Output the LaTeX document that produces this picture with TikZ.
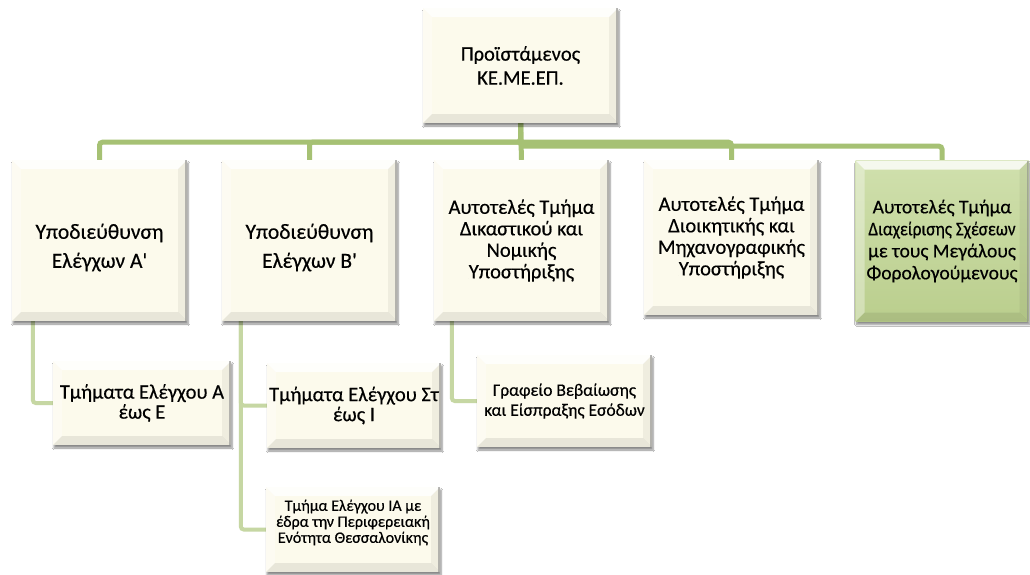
\documentclass[tikz,border=0pt]{standalone}
\usepackage{fontspec}
\setmainfont{Carlito}[Ligatures=TeXOff, FakeBold=0.4]
\usetikzlibrary{shadows.blur,backgrounds}
\definecolor{cream}{RGB}{252,250,236}
\definecolor{busgreen}{RGB}{166,193,116}
\definecolor{subgreen}{RGB}{198,215,163}
\definecolor{gtop}{RGB}{208,224,173}
\definecolor{gbot}{RGB}{186,206,141}
\newcommand\mybevel{%
  \fill[white,opacity=0.8] (path picture bounding box.north west) -- (path picture bounding box.north east)
    -- ([xshift=-9pt,yshift=-9pt]path picture bounding box.north east) -- ([xshift=9pt,yshift=-9pt]path picture bounding box.north west) -- cycle;
  \fill[white,opacity=0.35] (path picture bounding box.north west) -- (path picture bounding box.south west)
    -- ([xshift=9pt,yshift=9pt]path picture bounding box.south west) -- ([xshift=9pt,yshift=-9pt]path picture bounding box.north west) -- cycle;
  \fill[black,opacity=0.08] (path picture bounding box.south west) -- (path picture bounding box.south east)
    -- ([xshift=-9pt,yshift=9pt]path picture bounding box.south east) -- ([xshift=9pt,yshift=9pt]path picture bounding box.south west) -- cycle;
  \fill[black,opacity=0.05] (path picture bounding box.north east) -- (path picture bounding box.south east)
    -- ([xshift=-9pt,yshift=9pt]path picture bounding box.south east) -- ([xshift=-9pt,yshift=-9pt]path picture bounding box.north east) -- cycle;
  \fill[black!45,opacity=0.6] ([xshift=-2pt]path picture bounding box.north east) rectangle (path picture bounding box.south east);
}
\tikzset{
  orgbox/.style={fill=cream, draw=none, align=center, inner sep=1pt,
    blur shadow={shadow xshift=1pt, shadow yshift=-3pt, shadow blur steps=6, shadow opacity=45},
    path picture={\mybevel}},
  lvtwo/.style={orgbox, minimum width=175pt, minimum height=161pt,
    font=\fontsize{20.5}{21.5}\selectfont},
  lvthree/.style={orgbox, minimum width=175pt, minimum height=85pt,
    font=\fontsize{20.5}{20}\selectfont},
  plaintext/.style={align=center, inner sep=0pt},
  bus/.style={draw=busgreen, line width=5pt, rounded corners=3pt},
  sub/.style={draw=subgreen, line width=4pt, rounded corners=3pt},
}
\begin{document}
\begin{tikzpicture}[x=1pt,y=-1pt]
\useasboundingbox (0,0) rectangle (1030,574);
\node[orgbox, minimum width=195pt, minimum height=115pt,
  font=\fontsize{20.5}{24}\selectfont] (top) at (520.5,65.5) {Προϊστάμενος\\ΚΕ.ΜΕ.ΕΠ.};
\node[lvtwo] (b1) at (99.5,240.5) {};
\node[plaintext, font=\fontsize{21.5}{29}\selectfont] (b1text) at ([yshift=-7pt]b1.center) {Υποδιεύθυνση\\Ελέγχων Α'};
\node[lvtwo] (b2) at (309.5,240.5) {};
\node[plaintext, font=\fontsize{21.5}{29}\selectfont] (b2text) at ([yshift=-7pt]b2.center) {Υποδιεύθυνση\\Ελέγχων Β'};
\node[lvtwo] (b3) at (521.5,240.5) {Αυτοτελές Τμήμα\\Δικαστικού και\\Νομικής\\Υποστήριξης};
\node[lvtwo, minimum height=155pt] (b4) at (731.5,237.5) {Αυτοτελές Τμήμα\\Διοικητικής και\\Μηχανογραφικής\\Υποστήριξης};
\node[lvtwo, minimum width=173pt, top color=gtop, bottom color=gbot,
  font=\fontsize{19.5}{22}\selectfont] (b5) at (942,241) {Αυτοτελές Τμήμα\\\scalebox{0.89}[1]{Διαχείρισης Σχέσεων}\\με τους Μεγάλους\\Φορολογούμενους};
\node[lvthree, minimum width=178pt, minimum height=84pt] (l3a) at (142,403) {Τμήματα Ελέγχου Α\\έως Ε};
\node[lvthree, minimum width=174pt] (l3b) at (354,405.5) {Τμήματα Ελέγχου Στ\\έως Ι};
\node[lvthree, minimum width=174pt] (l3c) at (353,529.5) {};
\node[plaintext, font=\fontsize{16}{16}\selectfont] (l3ctext) at ([yshift=7pt]l3c.center) {Τμήμα Ελέγχου ΙΑ με\\έδρα την Περιφερειακή\\Ενότητα Θεσσαλονίκης};
\node[lvthree, minimum height=92pt, font=\fontsize{17.5}{20}\selectfont] (l3d) at (564.5,401) {Γραφείο Βεβαίωσης\\και Είσπραξης Εσόδων};
\begin{scope}[on background layer]
\fill[white] (0,0) rectangle (1030,574);
\draw[bus] (top.south) -- ++(0,19) -| (b1.north);
\draw[bus] (top.south) -- ++(0,19) -| (b2.north);
\draw[bus] (top.south) -- (b3.north);
\draw[bus] (top.south) -- ++(0,19) -| (b4.north);
\draw[bus] (top.south) -- ++(0,23) -| (b5.north);
\draw[sub] ([xshift=21pt]b1.south west) |- (l3a.west);
\draw[sub] ([xshift=19pt]b2.south west) |- (l3b.west);
\draw[sub] ([xshift=19pt]b2.south west) |- (l3c.west);
\draw[sub] ([xshift=18pt]b3.south west) |- (l3d.west);
\end{scope}
\end{tikzpicture}
\end{document}
